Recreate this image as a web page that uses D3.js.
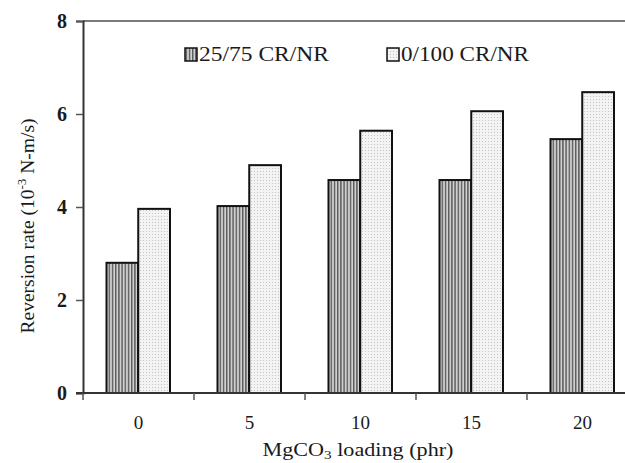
<!DOCTYPE html>
<html>
<head>
<meta charset="utf-8">
<script src="https://cdn.jsdelivr.net/npm/d3@7"></script>
<style>
  html, body { margin: 0; padding: 0; background: #fff; }
  svg { display: block; }
  text { font-family: 'Liberation Serif', 'Times New Roman', serif; fill: #1a1a1a; }
</style>
</head>
<body>
<div id="main"></div>
<script>
// values
const loadings = ['0', '5', '10', '15', '20'];
const seriesNames = ['25/75 CR/NR', '0/100 CR/NR'];
const blend2575 = [2.8, 4.02, 4.58, 4.58, 5.46];
const blend0100 = [3.96, 4.9, 5.64, 6.06, 6.47];
const yTicks = [0, 2, 4, 6, 8];

const WIDTH = 625, HEIGHT = 463;
const LEFT = 83, TOP = 21, BOTTOM = 393, RIGHT = 638;

const svg = d3.select('#main').append('svg')
    .attr('width', WIDTH)
    .attr('height', HEIGHT);

const defs = svg.append('defs');
const stripes = defs.append('pattern')
    .attr('id', 'stripes')
    .attr('patternUnits', 'userSpaceOnUse')
    .attr('width', 3.2)
    .attr('height', 4);
stripes.append('rect').attr('width', 3.2).attr('height', 4).attr('fill', '#d0d0d0');
stripes.append('rect').attr('width', 1.4).attr('height', 4).attr('fill', '#5a5a5a');

const dots = defs.append('pattern')
    .attr('id', 'dots')
    .attr('patternUnits', 'userSpaceOnUse')
    .attr('width', 3)
    .attr('height', 3);
dots.append('rect').attr('width', 3).attr('height', 3).attr('fill', '#f3f3f3');
dots.append('rect').attr('width', 1).attr('height', 1).attr('fill', '#c4c4c4');

const fills = ['url(#stripes)', 'url(#dots)'];

const scaleX = d3.scaleBand().domain(loadings).range([LEFT, RIGHT]).padding(0);
const scaleSeries = d3.scaleBand().domain([0, 1]).range([23.5, 87]).padding(0);
const scaleY = d3.scaleLinear().domain([0, 8]).range([BOTTOM, TOP]);

const rows = loadings.map((k, i) => ({ k, values: [blend2575[i], blend0100[i]] }));

// top frame line
svg.append('line')
    .attr('x1', LEFT).attr('x2', RIGHT)
    .attr('y1', scaleY(8)).attr('y2', scaleY(8))
    .attr('stroke', '#7a7a7a').attr('stroke-width', 2);

// bars
const groups = svg.selectAll('g.cat').data(rows).enter().append('g')
    .attr('class', 'cat')
    .attr('transform', (d) => `translate(${scaleX(d.k)},0)`);
groups.selectAll('rect').data((d) => d.values).enter().append('rect')
    .attr('x', (d, i) => scaleSeries(i))
    .attr('y', (d) => scaleY(d))
    .attr('width', scaleSeries.bandwidth())
    .attr('height', (d) => scaleY(0) - scaleY(d))
    .attr('fill', (d, i) => fills[i])
    .attr('stroke', '#111')
    .attr('stroke-width', 2);

// y axis
const axisY = d3.axisLeft(scaleY).tickValues(yTicks).tickSize(7).tickPadding(9).tickFormat(d3.format('d'));
const gy = svg.append('g')
    .attr('transform', `translate(${LEFT},0)`)
    .call(axisY);
gy.select('.domain').attr('stroke', '#333').attr('stroke-width', 2);
gy.selectAll('.tick line').attr('stroke', '#555').attr('stroke-width', 1.5);
gy.selectAll('.tick text')
    .attr('font-size', 20)
    .attr('font-weight', 'bold')
    .attr('fill', '#1a1a1a');

// x axis: ticks sit between categories
const boundaries = loadings.map((k) => scaleX(k)).concat([RIGHT]);
svg.append('line')
    .attr('x1', LEFT - 7).attr('x2', RIGHT)
    .attr('y1', BOTTOM).attr('y2', BOTTOM)
    .attr('stroke', '#333').attr('stroke-width', 2);
svg.selectAll('line.xtick').data(boundaries).enter().append('line')
    .attr('class', 'xtick')
    .attr('x1', (d) => d).attr('x2', (d) => d)
    .attr('y1', BOTTOM).attr('y2', BOTTOM + 7)
    .attr('stroke', '#555').attr('stroke-width', 1.5);
svg.selectAll('text.xlabel').data(loadings).enter().append('text')
    .attr('class', 'xlabel')
    .attr('x', (d) => scaleX(d) + scaleX.bandwidth() / 2)
    .attr('y', 429)
    .attr('text-anchor', 'middle')
    .attr('font-size', 19)
    .text((d) => d);

// axis titles
const xTitle = svg.append('text')
    .attr('x', 358)
    .attr('y', 456)
    .attr('text-anchor', 'middle')
    .attr('font-size', 19)
    .attr('textLength', 191)
    .attr('lengthAdjust', 'spacingAndGlyphs');
xTitle.append('tspan').text('MgCO');
xTitle.append('tspan').attr('font-size', 13).attr('dy', 3).text('3');
xTitle.append('tspan').attr('dy', -3).text(' loading (phr)');

const yTitle = svg.append('text')
    .attr('transform', 'translate(34,226) rotate(-90)')
    .attr('text-anchor', 'middle')
    .attr('font-size', 18)
    .attr('textLength', 215)
    .attr('lengthAdjust', 'spacingAndGlyphs');
yTitle.append('tspan').text('Reversion rate (10');
yTitle.append('tspan').attr('font-size', 12).attr('dy', -8).text('-3');
yTitle.append('tspan').attr('dy', 8).text(' N-m/s)');

// legend
const legendX = [185, 387];
const legendW = [130, 128];
const legend = svg.append('g');
seriesNames.forEach((name, i) => {
    legend.append('rect')
        .attr('x', legendX[i]).attr('y', 48)
        .attr('width', 12).attr('height', 13)
        .attr('fill', fills[i])
        .attr('stroke', '#111').attr('stroke-width', 1.5);
    legend.append('text')
        .attr('x', legendX[i] + 14)
        .attr('y', 61)
        .attr('font-size', 20)
        .attr('textLength', legendW[i])
        .attr('lengthAdjust', 'spacingAndGlyphs')
        .text(name);
});
</script>
</body>
</html>
